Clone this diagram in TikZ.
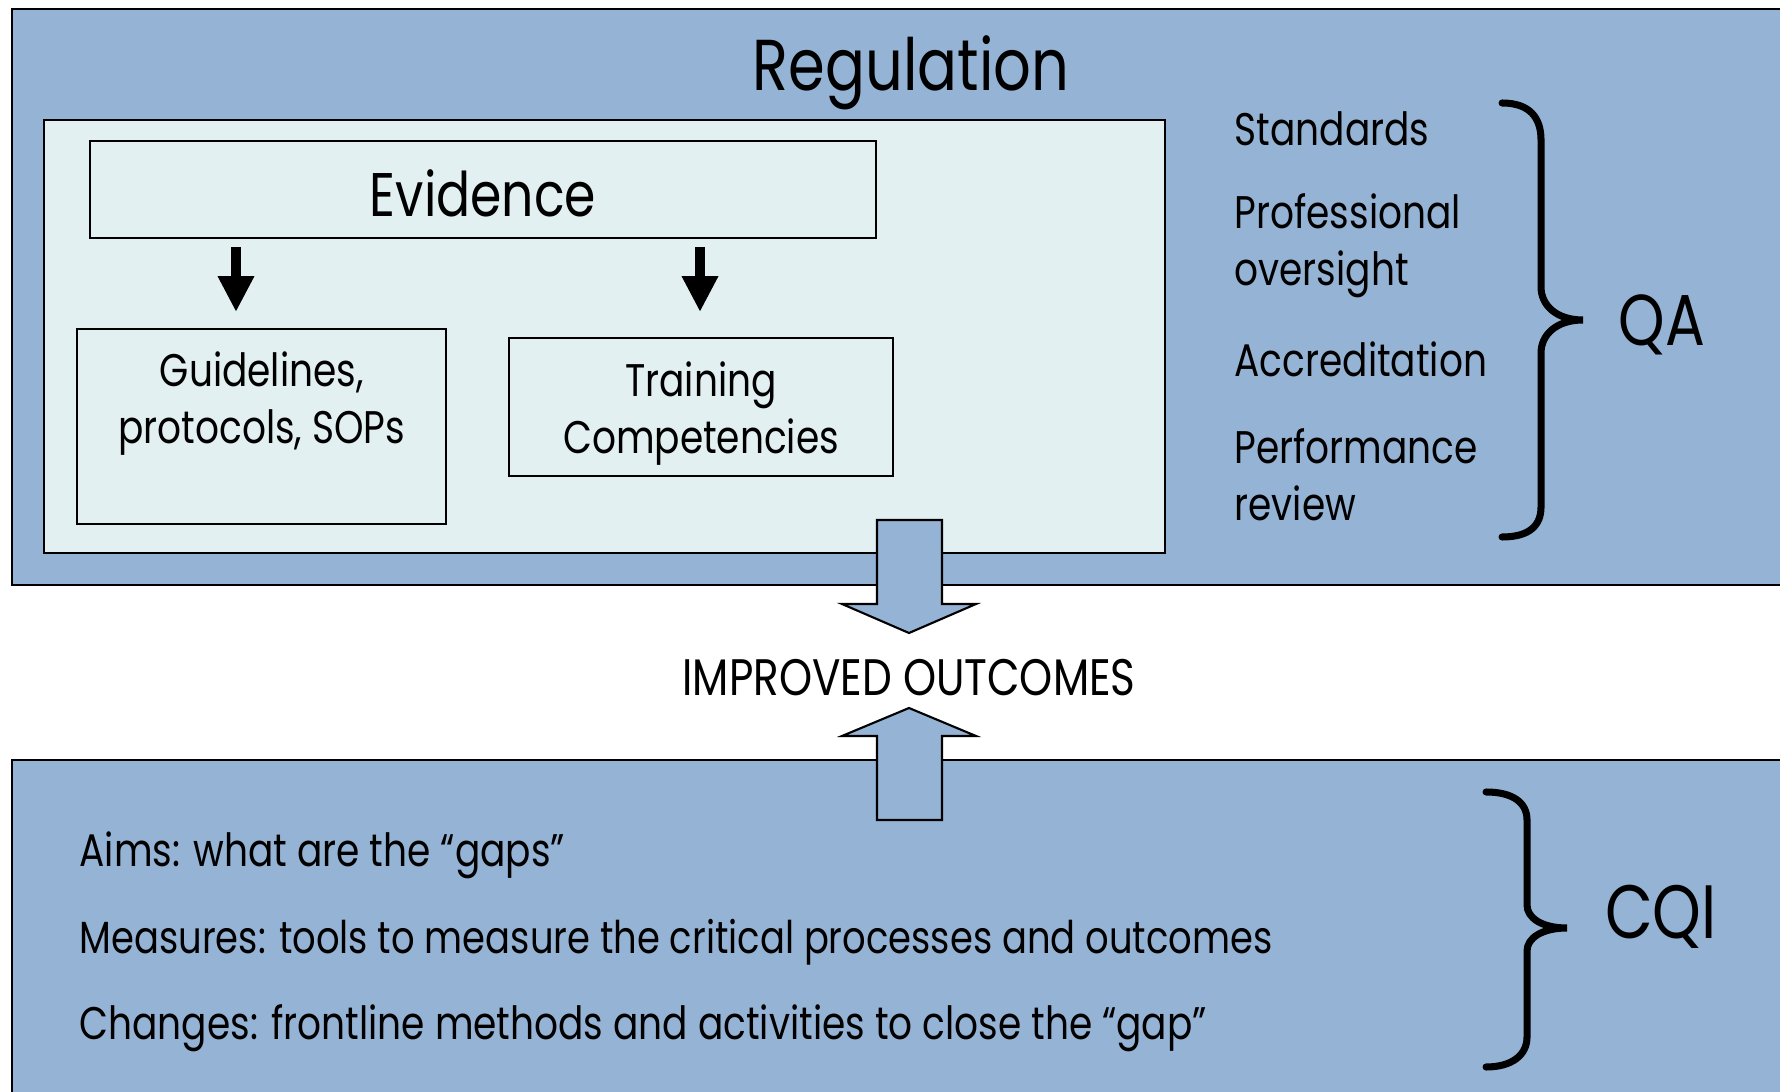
\documentclass[tikz,border=0pt]{standalone}
\usepackage{fontspec}
\setmainfont{Poppins}[FakeStretch=0.82]
\usetikzlibrary{arrows.meta}
\definecolor{regblue}{RGB}{149,179,212}
\definecolor{evidbg}{RGB}{226,240,242}

\begin{document}
\begin{tikzpicture}[x=0.01cm,y=-0.01cm,>/.tip={Triangle[width=9.7pt,length=10.2pt]},
  fat/.style={draw,line width=0.6pt,fill=regblue},
  box/.style={draw,line width=0.6pt,fill=evidbg,inner sep=0pt},
  txt/.style={font=\fontsize{13}{16.2}\selectfont,align=center},
  item/.style={font=\fontsize{13}{16.2}\selectfont,align=left,anchor=west,inner sep=0pt},
  big/.style={font=\fontsize{20.5}{24}\selectfont},
  brace/.style={line width=2pt,line cap=round}]
\useasboundingbox (0,0) rectangle (1780,1092);
\clip (0,0) rectangle (1780,1092);
\fill[white] (0,0) rectangle (1780,1092);

% the two bands
\draw[fat] (12,9) rectangle (1800,585);
\draw[fat] (12,760) rectangle (1800,1110);
\draw[box] (44,120) rectangle (1165,553);

\node (reg) [big] at (911,73) {Regulation};

\node (evid)  [box,minimum width=7.86cm,minimum height=0.97cm] at (483,189.5) {};
\node (etext) [font=\fontsize{17.5}{21}\selectfont] at ([yshift=-0.035cm]evid.center) {Evidence};
\node (guide) [box,minimum width=3.69cm,minimum height=1.95cm,anchor=north west] at (76,328) {};
\node (gtext) [txt] at ([yshift=-0.755cm]guide.north) {Guidelines,\\protocols, SOPs};
\node (train) [box,minimum width=3.84cm,minimum height=1.38cm] at (701,407) {};
\node (ttext) [txt] at ([yshift=-0.07cm]train.center) {Training\\Competencies};

\coordinate (a1) at (236,247);
\coordinate (b1) at (236,312);
\coordinate (a2) at (700,247);
\coordinate (b2) at (700,312);
\draw[->,line width=2.8pt] (a1) -- (b1);
\draw[->,line width=2.8pt] (a2) -- (b2);

% QA side
\node (std)  [item] at (1234,129) {Standards};
\node (prof) [item] at (1234,246) {Professional\\oversight};
\node (accr) [item] at (1234,359) {Accreditation};
\node (perf) [item] at (1234,475) {Performance\\review};
\draw[brace] (1502,103) .. controls (1530,103) and (1541,118) .. (1541,140) -- (1541,287)
  .. controls (1541,305) and (1556,320) .. (1583,320)
  .. controls (1556,320) and (1541,335) .. (1541,353) -- (1541,507)
  .. controls (1541,525) and (1530,537) .. (1502,537);
\node (qa) [big] at (1662,325) {QA};

% outcomes
\draw[fat] (877,520) -- (942,520) -- (942,604) -- (976,604) -- (909,633) -- (842,604) -- (877,604) -- cycle;
\draw[fat] (877,820) -- (942,820) -- (942,736) -- (976,736) -- (909,708) -- (842,736) -- (877,736) -- cycle;
\node (out) [font=\fontsize{14.6}{17}\selectfont] at (909,678) {IMPROVED OUTCOMES};

% CQI side
\node (aims) [item] at (79,855)  {Aims: what are the “gaps”};
\node (meas) [item,font=\fontsize{12.8}{16}\selectfont] at (79,942)  {Measures: tools to measure the critical processes and outcomes};
\node (chg)  [item] at (79,1028) {Changes: frontline methods and activities to close the “gap”};
\draw[brace] (1486,792) .. controls (1512,792) and (1527,802) .. (1527,820) -- (1527,905)
  .. controls (1527,918) and (1542,928) .. (1567,928)
  .. controls (1542,928) and (1527,938) .. (1527,951) -- (1527,1037)
  .. controls (1527,1055) and (1512,1067) .. (1486,1067);
\node (cqi) [big,font=\fontsize{21.5}{25}\selectfont] at (1661,917) {CQI};

\end{tikzpicture}
\end{document}
